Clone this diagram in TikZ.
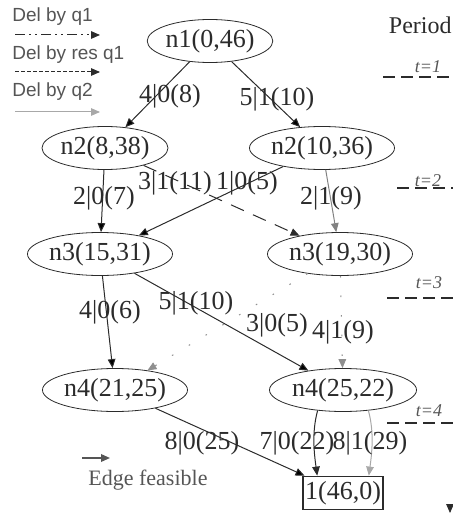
\documentclass[tikz,border=0pt]{standalone}
\usepackage{fontspec}
\setmainfont{Liberation Serif}
\newfontfamily\legendfont{Liberation Sans}
\usetikzlibrary{arrows.meta,shapes.geometric}
\definecolor{ink}{HTML}{2B2B2B}
\definecolor{soft}{HTML}{A8A8A8}
\definecolor{legendgray}{HTML}{555555}

\begin{document}
\begin{tikzpicture}[
  x=0.5pt,y=-0.5pt,
  state/.style={draw=ink,ellipse,inner sep=0pt,minimum width=72.5pt,minimum height=21.5pt,text=ink,font=\fontsize{13}{15}\selectfont},
  sink/.style={draw=ink,line width=0.9pt,inner sep=0pt,minimum width=40pt,minimum height=16.5pt,text=ink,font=\fontsize{13}{15}\selectfont},
  lab/.style={inner sep=0pt,text=ink,font=\fontsize{13}{15}\selectfont},
  tick/.style={inner sep=0pt,text=legendgray,font=\fontsize{9}{10}\selectfont\itshape},
  legend/.style={inner sep=0pt,text=legendgray,font=\legendfont\fontsize{9.5}{11}\selectfont},
  flow/.style={-{Triangle[length=4.5pt,width=3.8pt]},draw=ink,line width=0.5pt},
  byqone/.style={flow,dash pattern=on 5pt off 2pt on 1pt off 2pt on 1pt off 2pt},
  byres/.style={flow,dash pattern=on 2pt off 1pt},
  byqtwo/.style={flow,draw=soft,-{Triangle[length=4.5pt,width=3.8pt,fill=soft]}},
  period/.style={draw=ink,line width=0.6pt,dash pattern=on 6pt off 3pt}
]
  \useasboundingbox (0,0) rectangle (453,519);

  % legend
  \node[legend,anchor=west] (lq1) at (12,17) {Del by q1};
  \coordinate (q1a) at (15,35);
  \coordinate (q1b) at (100,35);
  \node[legend,anchor=west] (lres) at (12,55) {Del by res q1};
  \coordinate (resa) at (15,72);
  \coordinate (resb) at (100,72);
  \node[legend,anchor=west] (lq2) at (12,92) {Del by q2};
  \coordinate (q2a) at (15,112);
  \coordinate (q2b) at (100,112);
  \draw[byqone] (q1a) -- (q1b);
  \draw[byres] (resa) -- (resb);
  \draw[byqtwo] (q2a) -- (q2b);

  % periods
  \node[lab,anchor=east,font=\fontsize{12}{14}\selectfont] (period) at (452,25) {Period};
  \node[tick] (t1) at (428,67) {t=1};
  \node[tick] (t2) at (428,181) {t=2};
  \node[tick] (t3) at (429,283) {t=3};
  \node[tick] (t4) at (429,411) {t=4};
  \coordinate (s1a) at (383,77);  \coordinate (s1b) at (453,77);
  \coordinate (s2a) at (397,188); \coordinate (s2b) at (453,188);
  \coordinate (s3a) at (387,298); \coordinate (s3b) at (453,298);
  \coordinate (s4a) at (387,423); \coordinate (s4b) at (453,423);
  \draw[period] (s1a) -- (s1b);
  \draw[period] (s2a) -- (s2b);
  \draw[period] (s3a) -- (s3b);
  \draw[period] (s4a) -- (s4b);

  % states
  \node[state,minimum width=62.5pt] (n1) at (210,41) {n1(0,46)};
  \node[state,minimum width=63pt] (n2a) at (105,148) {n2(8,38)};
  \node[state] (n2b) at (322,148) {n2(10,36)};
  \node[state] (n3a) at (100,254) {n3(15,31)};
  \node[state] (n3b) at (340,254) {n3(19,30)};
  \node[state] (n4a) at (115,390) {n4(21,25)};
  \node[state,minimum width=73.5pt] (n4b) at (343,390) {n4(25,22)};
  \node[sink] (end) at (343,493) {1(46,0)};

  \path[flow]
    (n1) edge (n2a)
    (n1) edge (n2b)
    (n2a) edge (n3a)
    (n2b) edge (n3a)
    (n3a) edge (n4a)
    (n3a) edge (n4b)
    (n4a) edge (end);
  \draw[flow] (n4b.219) .. controls +(-6,22) and +(-3,-22) .. (end.146);
  \draw[flow,dash pattern=on 7pt off 5pt] (n2a) -- (n3b);
  \draw[flow,draw=soft!70!ink] (n2b) -- (n3b);
  \draw[flow,draw=soft!80!ink,dash pattern=on 0.8pt off 9pt] (n3b) -- (n4a);
  \draw[flow,draw=soft!80!ink,dash pattern=on 0.8pt off 9pt] (n3b) -- (n4b);
  \draw[flow,draw=soft] (n4b.321) .. controls +(6,22) and +(3,-22) .. (end.34);

  % labels
  \node[lab] (w1) at (170,96) {4|0(8)};
  \node[lab] (w2) at (277,99) {5|1(10)};
  \node[lab] (w3) at (104,198) {2|0(7)};
  \node[lab] (w4) at (175,183) {3|1(11)};
  \node[lab] (w5) at (247,183) {1|0(5)};
  \node[lab] (w6) at (331,198) {2|1(9)};
  \node[lab] (w7) at (110,312) {4|0(6)};
  \node[lab] (w8) at (196,303) {5|1(10)};
  \node[lab] (w9) at (277,325) {3|0(5)};
  \node[lab] (w10) at (343,332) {4|1(9)};
  \node[lab] (w11) at (202,443) {8|0(25)};
  \node[lab] (w12) at (297,443) {7|0(22)};
  \node[lab] (w13) at (370,443) {8|1(29)};

  % feasible edge legend
  \coordinate (fa) at (82,458);
  \coordinate (fb) at (110,458);
  \draw[flow,draw=legendgray,line width=0.8pt] (fa) -- (fb);
  \node[lab,text=legendgray,font=\fontsize{11}{13}\selectfont,anchor=west] (feas) at (88,480) {Edge feasible};

  % axis end
  \coordinate (axa) at (450,496);
  \coordinate (axb) at (450,513);
  \draw[draw=white,-{Triangle[length=4.5pt,width=3.8pt,color=ink]}] (axa) -- (axb);
\end{tikzpicture}
\end{document}
